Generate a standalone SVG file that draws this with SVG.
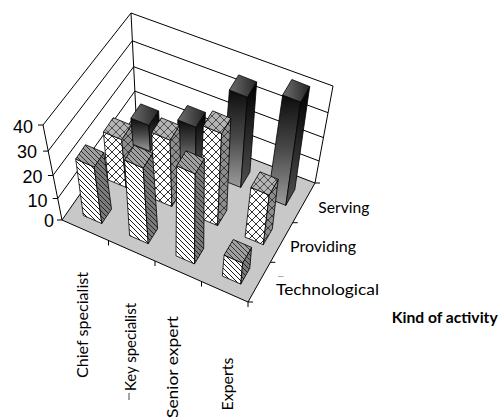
<svg xmlns="http://www.w3.org/2000/svg" width="499" height="417" viewBox="0 0 499 417">
<defs>
<style>
.ln{stroke:#000;stroke-width:1;fill:none}
.bar polygon{stroke:#000;stroke-width:0.8;stroke-linejoin:round}
.num{font-family:"Liberation Sans",Arial,sans-serif;font-size:18px;fill:#000;text-anchor:end}
.lbl{font-family:Lato,"Liberation Sans",sans-serif;font-size:16px;fill:#000}
.tf{fill:url(#hT)}.ts{fill:url(#hTs)}.tt{fill:url(#hTt)}
.pf{fill:url(#xP)}.ps{fill:url(#xPs)}.pt{fill:url(#xPt)}
.sf{fill:url(#gSf)}.ss{fill:url(#gSs)}.st{fill:url(#gSt)}
</style>
<pattern id="hT" width="5" height="5" patternUnits="userSpaceOnUse"><rect width="5" height="5" fill="#fff"/><path d="M0,0L5,5M-1,4L1,6M4,-1L6,1" stroke="#000" stroke-width="0.9"/></pattern>
<pattern id="hTs" width="5" height="5" patternUnits="userSpaceOnUse"><rect width="5" height="5" fill="#7a7a7a"/><path d="M0,0L5,5M-1,4L1,6M4,-1L6,1" stroke="#1a1a1a" stroke-width="0.9"/></pattern>
<pattern id="hTt" width="5" height="5" patternUnits="userSpaceOnUse"><rect width="5" height="5" fill="#a0a0a0"/><path d="M0,0L5,5M-1,4L1,6M4,-1L6,1" stroke="#222" stroke-width="0.9"/></pattern>
<pattern id="xP" width="8" height="8" patternUnits="userSpaceOnUse"><rect width="8" height="8" fill="#fff"/><path d="M0,0L8,8M8,0L0,8" stroke="#000" stroke-width="0.8"/></pattern>
<pattern id="xPs" width="8" height="8" patternUnits="userSpaceOnUse"><rect width="8" height="8" fill="#8e8e8e"/><path d="M0,0L8,8M8,0L0,8" stroke="#222" stroke-width="0.8"/></pattern>
<pattern id="xPt" width="8" height="8" patternUnits="userSpaceOnUse"><rect width="8" height="8" fill="#b4b4b4"/><path d="M0,0L8,8M8,0L0,8" stroke="#333" stroke-width="0.8"/></pattern>
<linearGradient id="gSf" x1="0" y1="0" x2="0" y2="1"><stop offset="0" stop-color="#0c0c0c"/><stop offset="0.5" stop-color="#4a4a4a"/><stop offset="1" stop-color="#9c9c9c"/></linearGradient>
<linearGradient id="gSs" x1="0" y1="0" x2="0" y2="1"><stop offset="0" stop-color="#000"/><stop offset="1" stop-color="#505050"/></linearGradient>
<linearGradient id="gSt" x1="0" y1="0" x2="1" y2="0"><stop offset="0" stop-color="#6e6e6e"/><stop offset="1" stop-color="#262626"/></linearGradient>
</defs>

<g id="walls">
<polygon points="43,125 131,13 136,114 62,220" fill="#fff"/>
<polygon points="131,13 333,86 315,183 136,114" fill="#fff"/>
<polygon id="floor" points="62,220 136,114 315,183 248,302" fill="#c8c8c8"/>
<path class="ln" d="M43,125L62,220M43,125L131,13M131,13L136,114M131,13L333,86M333,86L315,183"/>
<path class="ln" d="M48.1,151.1L132.3,40.8L328.1,112.7M52.9,175.5L133.7,66.7L323.4,137.6M57.7,198.5L134.9,91.1L319.1,161M62,220L136,114L315,183"/>
</g>

<g id="axes">
<path class="ln" d="M62,220L248,302L315,183"/>
<path class="ln" d="M38,125H43M43.1,151.1H48.1M47.9,175.5H52.9M52.7,198.5H57.7M57,220H62"/>
<path class="ln" d="M108.5,240.5V245.5M155,261V266M201.5,281.5V286.5M248,302V307"/>
<path class="ln" d="M270.3,262.3H275.3M292.7,222.7H297.7M315,183H320M248,302H253"/>
<text class="num" x="33" y="133">40</text>
<text class="num" x="37" y="158">30</text>
<text class="num" x="42.5" y="183">20</text>
<text class="num" x="47.5" y="207">10</text>
<text class="num" x="54" y="227">0</text>
</g>

<g id="serving" class="bar">
<g id="s1"><polygon class="sf" points="130.9,118.2 148.9,125.4 150.3,151.3 132.3,144.1"/><polygon class="ss" points="148.9,125.4 158.6,110.9 160.1,136.9 150.3,151.3"/><polygon class="st" points="130.9,118.2 140.7,103.9 158.6,110.9 148.9,125.4"/></g>
<g id="s2"><polygon class="sf" points="177.8,120 195.9,127.2 195.5,169.3 177.4,162.1"/><polygon class="ss" points="195.9,127.2 205.3,112.4 205,154.5 195.5,169.3"/><polygon class="st" points="177.8,120 187.4,105.4 205.3,112.4 195.9,127.2"/></g>
<g id="s3"><polygon class="sf" points="229.4,90 247.4,97.2 240.7,187.4 222.6,180.2"/><polygon class="ss" points="247.4,97.2 256.7,81.9 249.9,172.1 240.7,187.4"/><polygon class="st" points="229.4,90 238.7,74.9 256.7,81.9 247.4,97.2"/></g>
<g id="s4"><polygon class="sf" points="282.7,95 300.7,102.2 285.8,205.4 267.8,198.2"/><polygon class="ss" points="300.7,102.2 309.7,86.5 294.8,189.6 285.8,205.4"/><polygon class="st" points="282.7,95 291.8,79.5 309.7,86.5 300.7,102.2"/></g>
</g>

<g id="providing" class="bar">
<g id="p1"><polygon class="pf" points="103.4,132 121.7,139.6 126.1,187.4 107.8,179.8"/><polygon class="ps" points="121.7,139.6 131.4,125.2 135.8,173 126.1,187.4"/><polygon class="pt" points="103.4,132 113.2,117.7 131.4,125.2 121.7,139.6"/></g>
<g id="p2"><polygon class="pf" points="151.8,132.5 170.1,140.2 171.8,206.5 153.5,198.9"/><polygon class="ps" points="170.1,140.2 179.5,125.3 181.3,191.7 171.8,206.5"/><polygon class="pt" points="151.8,132.5 161.3,117.8 179.5,125.3 170.1,140.2"/></g>
<g id="p3"><polygon class="pf" points="203.3,126 221.6,133.6 217.6,225.6 199.3,218"/><polygon class="ps" points="221.6,133.6 230.8,118.3 226.8,210.3 217.6,225.6"/><polygon class="pt" points="203.3,126 212.6,110.8 230.8,118.3 221.6,133.6"/></g>
<g id="p4"><polygon class="pf" points="250.9,187.4 269.2,195.1 263.3,244.7 245,237.1"/><polygon class="ps" points="269.2,195.1 278.2,179.3 272.3,229 263.3,244.7"/><polygon class="pt" points="250.9,187.4 260,171.8 278.2,179.3 269.2,195.1"/></g>
</g>

<g id="technological" class="bar">
<g id="t1"><polygon class="tf" points="75.7,159 94.2,167 101.8,223.5 83.3,215.5"/><polygon class="ts" points="94.2,167 103.9,152.6 111.5,209.1 101.8,223.5"/><polygon class="tt" points="75.7,159 85.5,144.7 103.9,152.6 94.2,167"/></g>
<g id="t2"><polygon class="tf" points="124.6,160 143.2,168.1 148.2,243.7 129.6,235.6"/><polygon class="ts" points="143.2,168.1 152.6,153.2 157.6,228.8 148.2,243.7"/><polygon class="tt" points="124.6,160 134.2,145.3 152.6,153.2 143.2,168.1"/></g>
<g id="t3"><polygon class="tf" points="176.7,165.8 195.2,173.9 194.5,263.9 176,255.8"/><polygon class="ts" points="195.2,173.9 204.4,158.6 203.7,248.6 194.5,263.9"/><polygon class="tt" points="176.7,165.8 186,150.7 204.4,158.6 195.2,173.9"/></g>
<g id="t4"><polygon class="tf" points="224.1,255.1 242.6,263.1 240.8,284.1 222.3,276"/><polygon class="ts" points="242.6,263.1 251.6,247.4 249.8,268.3 240.8,284.1"/><polygon class="tt" points="224.1,255.1 233.2,239.5 251.6,247.4 242.6,263.1"/></g>
</g>

<g id="labels">
<text class="lbl" x="318.3" y="212.5" textLength="51" lengthAdjust="spacingAndGlyphs">Serving</text>
<text class="lbl" x="290" y="251.5" textLength="66" lengthAdjust="spacingAndGlyphs">Providing</text>
<text class="lbl" x="276" y="295" textLength="103" lengthAdjust="spacingAndGlyphs">Technological</text>
<text class="lbl" x="391.7" y="322.5" font-weight="bold" textLength="106" lengthAdjust="spacingAndGlyphs">Kind of activity</text>
<text class="lbl" transform="translate(88,378) rotate(-90)" textLength="106" lengthAdjust="spacingAndGlyphs">Chief specialist</text>
<text class="lbl" transform="translate(136,391) rotate(-90)" textLength="88" lengthAdjust="spacingAndGlyphs">Key specialist</text>
<text class="lbl" transform="translate(178,418) rotate(-90)" textLength="102" lengthAdjust="spacingAndGlyphs">Senior expert</text>
<text class="lbl" transform="translate(233,410.5) rotate(-90)" textLength="53" lengthAdjust="spacingAndGlyphs">Experts</text>
<path d="M129,393V400" stroke="#666" stroke-width="1.2"/>
<path d="M278,276.5H283.5" stroke="#aaa" stroke-width="1"/>
</g>
</svg>
